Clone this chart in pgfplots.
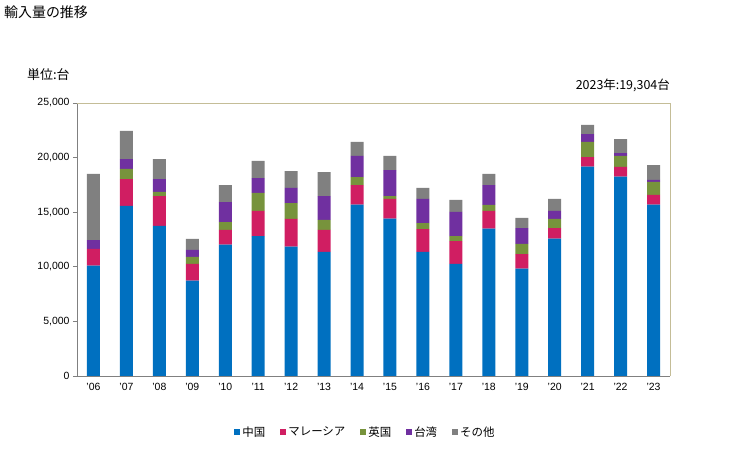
\documentclass[border=0pt]{standalone}
\usepackage{fontspec}
\setmainfont{Liberation Sans}
\newfontfamily\jp{Noto Sans CJK JP}
\usepackage{pgfplots}
\usepackage{pgfplotstable}
\pgfplotsset{compat=1.18}

\definecolor{cCN}{RGB}{0,112,192}
\definecolor{cMY}{RGB}{208,30,98}
\definecolor{cUK}{RGB}{119,147,60}
\definecolor{cTW}{RGB}{112,48,160}
\definecolor{cOT}{RGB}{128,128,128}
\definecolor{frametan}{RGB}{196,189,151}

% year: 0 = 2006
\pgfplotstableread{
x cn my uk tw ot
0 10100 1530 0 820 6050
1 15570 2470 920 910 2570
2 13740 2740 370 1190 1830
3 8730 1530 640 640 1010
4 12030 1340 730 1830 1560
5 12820 2290 1650 1370 1560
6 11840 2540 1460 1380 1550
7 11360 2010 920 2190 2200
8 15690 1800 730 1930 1280
9 14410 1800 270 2380 1290
10 11360 2100 550 2200 1010
11 10260 2100 460 2200 1100
12 13490 1620 550 1830 1010
13 9830 1340 920 1460 920
14 12580 970 830 730 1100
15 19170 880 1380 730 830
16 18250 890 1010 270 1280
17 15690 890 1190 180 1354
}\data

\pgfplotsset{sq/.style={legend image code/.code={\fill[##1,draw=none] (0bp,-3bp) rectangle (6bp,3bp);}}}

\begin{document}
\begin{tikzpicture}
\path[use as bounding box] (0bp,0bp) rectangle (729bp,450bp);
\node[anchor=west,inner sep=0] at (4bp,438bp) {\jp\fontsize{14}{16}\selectfont 輸入量の推移};
\node[anchor=west,inner sep=0] at (27bp,375bp) {\jp\fontsize{13}{15}\selectfont 単位:台};
\node[anchor=east,inner sep=0] at (670bp,365bp) {\jp\fontsize{12.5}{14}\selectfont 2023年:19,304台};
\begin{axis}[
  at={(77bp,74bp)}, anchor=south west,
  scale only axis, width=593bp, height=273bp,
  ybar stacked, bar width=13bp,
  xmin=-0.5, xmax=17.5, ymin=0, ymax=25000,
  xtick={0,...,17},
  xticklabels={'06,'07,'08,'09,'10,'11,'12,'13,'14,'15,'16,'17,'18,'19,'20,'21,'22,'23},
  ytick={0,5000,10000,15000,20000,25000},
  scaled y ticks=false,
  /pgf/number format/.cd, 1000 sep={,}, assume math mode=true, /pgfplots/.cd,
  tick label style={font=\fontsize{10.5}{12}\selectfont},
  axis x line*=bottom, axis y line*=left,
  axis line style={draw=gray, line width=1pt},
  tick align=outside,
  major x tick style={draw=none},
  major y tick style={draw=gray, line width=1pt},
  major tick length=4bp,
  clip=false,
  legend style={at={(0.4865,-0.205)}, anchor=center, draw=none,
    font=\jp\fontsize{11.5}{13}\selectfont, legend columns=5,
    /tikz/every even column/.append style={column sep=13bp}},
]
\addplot[fill=cCN, draw=none, sq] table[x=x,y=cn]{\data};
\addplot[fill=cMY, draw=none, sq] table[x=x,y=my]{\data};
\addplot[fill=cUK, draw=none, sq] table[x=x,y=uk]{\data};
\addplot[fill=cTW, draw=none, sq] table[x=x,y=tw]{\data};
\addplot[fill=cOT, draw=none, sq] table[x=x,y=ot]{\data};
\legend{中国,マレーシア,英国,台湾,その他}
\draw[frametan, line width=1pt] (rel axis cs:0,1) -- (rel axis cs:1,1) -- (rel axis cs:1,0);
\end{axis}
\end{tikzpicture}
\end{document}
